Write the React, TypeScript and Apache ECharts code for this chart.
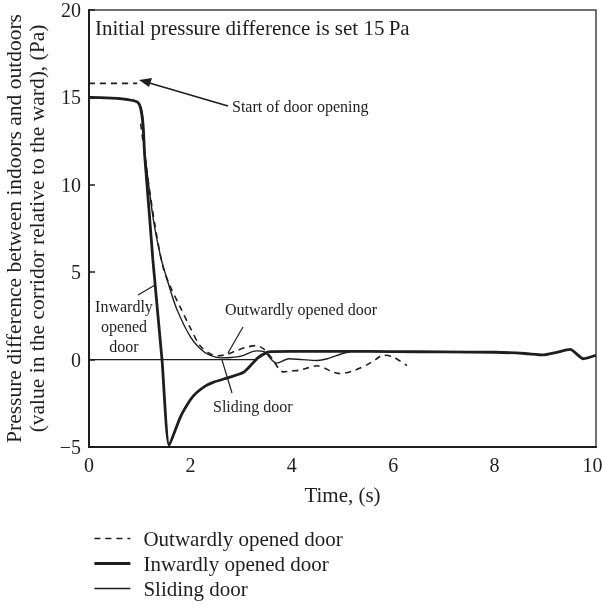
import React, { useEffect, useRef } from "react";
import * as echarts from "echarts";

const xTicks = [0, 2, 4, 6, 8, 10];
const yTicks = [-5, 0, 5, 10, 15, 20];

const outwardDoor: (number | string)[][] = [
  [0, 15.8], [0.95, 15.8], [0.98, "-"],
  [1.02, 13.5], [1.15, 10.6], [1.3, 7.7], [1.46, 5.3], [1.6, 4.2], [1.8, 3.0],
  [2.0, 1.8], [2.19, 0.8], [2.38, 0.35], [2.55, 0.22], [2.72, 0.3], [2.9, 0.5],
  [3.1, 0.7], [3.3, 0.8], [3.45, 0.6], [3.6, 0.1], [3.83, -0.7], [4.0, -0.65],
  [4.16, -0.6], [4.35, -0.45], [4.5, -0.35], [4.65, -0.5], [4.8, -0.7],
  [4.95, -0.8], [5.2, -0.65], [5.48, -0.3], [5.65, 0.0], [5.8, 0.25],
  [6.0, 0.15], [6.27, -0.35],
];

const inwardDoor: number[][] = [
  [0, 15], [0.97, 14.7], [1.1, 11.6], [1.26, 5.7], [1.44, 0], [1.58, -4.9],
  [1.8, -3.3], [2.0, -2.3], [2.12, -1.9], [2.3, -1.5], [2.45, -1.3],
  [2.78, -1.0], [3.04, -0.74], [3.2, -0.3], [3.33, 0.1], [3.5, 0.4],
  [3.6, 0.46], [4.0, 0.47], [5.0, 0.47], [6.0, 0.46], [7.0, 0.44],
  [8.0, 0.42], [8.6, 0.35], [8.95, 0.27], [9.2, 0.4], [9.49, 0.58],
  [9.75, 0.05], [10, 0.25],
];

const slidingDoor: number[][] = [
  [0, 15], [0.97, 14.7], [1.1, 11.8], [1.27, 8.0], [1.42, 5.8], [1.55, 4.5],
  [1.73, 2.9], [2.0, 1.3], [2.2, 0.6], [2.38, 0.25], [2.6, 0.1], [2.8, 0.12],
  [3.0, 0.2], [3.3, 0.5], [3.45, 0.45], [3.7, -0.2], [3.95, 0.05], [4.2, 0.0],
  [4.5, -0.05], [4.7, 0.05], [5.0, 0.35], [5.15, 0.45],
];

const zeroLine: number[][] = [[0, 0], [3.3, 0]];

const seriesNames = ["Outwardly opened door", "Inwardly opened door", "Sliding door"];

const FONT = "'Liberation Serif', 'DejaVu Serif', serif";
const INK = "#1e1e1e";

export default function App() {
  const ref = useRef<HTMLDivElement>(null);

  useEffect(() => {
    if (!ref.current) return;
    const chart = echarts.init(ref.current, undefined, { renderer: "svg" });
    const txt = (text: string, x: number, y: number, size: number, align = "left") => ({
      type: "text",
      style: { text, x, y, fontSize: size, fontFamily: FONT, fill: INK, align, verticalAlign: "middle" },
    });
    const seg = (x1: number, y1: number, x2: number, y2: number, w = 1.2) => ({
      type: "line",
      shape: { x1, y1, x2, y2 },
      style: { stroke: INK, lineWidth: w },
    });
    const lineStyles = [
      { color: INK, width: 1.6, type: [6, 5] },
      { color: INK, width: 2.8 },
      { color: INK, width: 1.4 },
    ];
    chart.setOption({
      animation: false,
      grid: {
        left: 89, right: 7, top: 10, bottom: 161,
        containLabel: false, outerBoundsMode: "none",
        show: true, borderColor: "#444", borderWidth: 1.5, backgroundColor: "transparent",
      },
      xAxis: {
        type: "value", min: 0, max: 10, interval: 2,
        name: "Time, (s)", nameLocation: "middle", nameGap: 37,
        nameTextStyle: { fontSize: 21, fontFamily: FONT, color: INK },
        axisLine: { show: true, onZero: false, lineStyle: { color: INK, width: 2 } },
        axisTick: { show: false },
        axisLabel: {
          fontSize: 20, fontFamily: FONT, color: INK, margin: 8,
          formatter: (v: number) => (v === 10 ? "{r|10}" : String(v)),
          rich: { r: { fontSize: 20, fontFamily: FONT, color: INK, padding: [0, 7, 0, 0] } },
        },
        splitLine: { show: false },
      },
      yAxis: {
        type: "value", min: -5, max: 20, interval: 5,
        name: "Pressure difference between indoors and outdoors\n(value in the corridor relative to the ward), (Pa)",
        nameLocation: "middle", nameGap: 35, nameRotate: 90,
        nameTextStyle: { fontSize: 21.5, fontFamily: FONT, color: INK, lineHeight: 23 },
        axisLine: { show: true, onZero: false, lineStyle: { color: INK, width: 2 } },
        axisTick: { show: true, inside: true, length: 6, lineStyle: { color: INK, width: 1.5 } },
        axisLabel: {
          fontSize: 20, fontFamily: FONT, color: INK, margin: 8,
          formatter: (v: number) => String(v).replace("-", "\u2212"),
        },
        splitLine: { show: false },
      },
      legend: {
        data: seriesNames.map((name, i) => ({ name, lineStyle: lineStyles[i] })),
        orient: "vertical", left: 88, top: 523,
        itemWidth: 36, itemHeight: 14, itemGap: 4,
        itemStyle: { opacity: 0 },
        textStyle: { fontSize: 21, fontFamily: FONT, color: INK, padding: [0, 0, 0, 8], lineHeight: 21 },
      },
      series: [
        {
          name: seriesNames[0], type: "line", data: outwardDoor, symbol: "none", smooth: 0.3,
          lineStyle: lineStyles[0], itemStyle: { color: INK },
        },
        {
          name: seriesNames[1], type: "line", data: inwardDoor, symbol: "none", smooth: 0.2,
          lineStyle: lineStyles[1], itemStyle: { color: INK },
        },
        {
          name: seriesNames[2], type: "line", data: slidingDoor, symbol: "none", smooth: 0.3,
          lineStyle: lineStyles[2], itemStyle: { color: INK },
        },
        {
          name: "zero", type: "line", data: zeroLine, symbol: "none",
          lineStyle: { color: INK, width: 1.2 }, silent: true,
        },
      ],
      graphic: [
        txt("Initial pressure difference is set 15\u2009Pa", 95, 28, 21),
        txt("Start of door opening", 232, 106, 16),
        seg(228, 106, 146, 82, 1.6),
        { type: "polygon", shape: { points: [[139, 80], [152, 78], [149, 87]] }, style: { fill: INK } },
        txt("Inwardly", 124, 306, 16, "center"),
        txt("opened", 124, 326, 16, "center"),
        txt("door", 124, 346, 16, "center"),
        seg(138, 295, 155, 285),
        txt("Outwardly opened door", 225, 309, 16),
        seg(243, 327, 228, 353),
        txt("Sliding door", 213, 406, 16),
        seg(222, 360, 232, 393),
      ],
    });
    return () => chart.dispose();
  }, []);

  return <div ref={ref} style={{ width: 603, height: 608, position: "fixed", left: 0, top: 0 }} />;
}
